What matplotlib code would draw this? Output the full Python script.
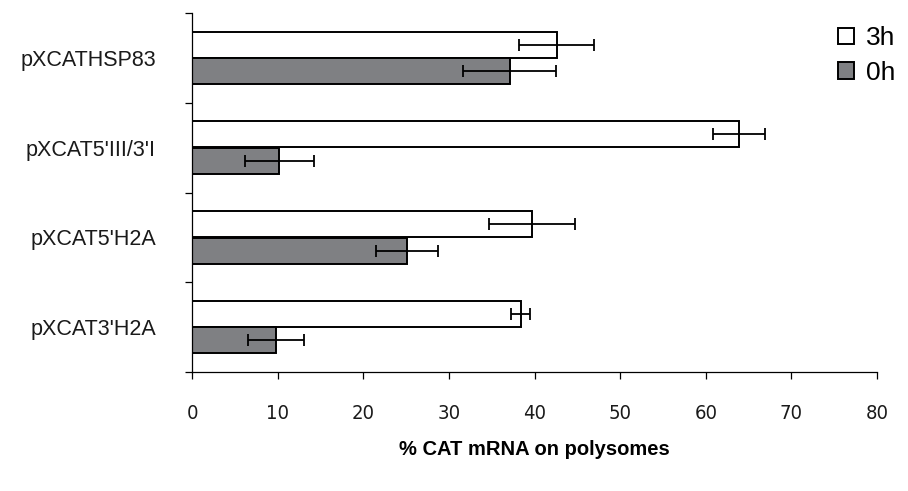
import matplotlib.pyplot as plt
import numpy as np

# data (top to bottom as in the chart)
constructs = ["pXCATHSP83", "pXCAT5'III/3'I", "pXCAT5'H2A", "pXCAT3'H2A"]
val_3h = [42.6, 63.9, 39.7, 38.4]
err_3h = [4.4, 3.0, 5.0, 1.1]
val_0h = [37.1, 10.2, 25.1, 9.8]
err_0h = [5.4, 4.0, 3.6, 3.3]

gray = '#7f8083'

fig = plt.figure(figsize=(9.08, 4.91), dpi=100)
ax = fig.add_axes([192/908, 1 - 372/491, (877 - 192)/908, (372 - 13)/491])

y = np.arange(len(constructs))[::-1]
h = 0.29

ax.barh(y + 0.147, val_3h, height=h, color='white', edgecolor='black', linewidth=1.4, label='3h')
ax.barh(y - 0.147, val_0h, height=h, color=gray, edgecolor='black', linewidth=1.4, label='0h')
ax.errorbar(val_3h, y + 0.147, xerr=err_3h, fmt='none', ecolor='black', elinewidth=1.3, capsize=4, capthick=1.3)
ax.errorbar(val_0h, y - 0.147, xerr=err_0h, fmt='none', ecolor='black', elinewidth=1.3, capsize=4, capthick=1.3)

ax.set_xlim(0, 80)
ax.set_ylim(-0.5, len(constructs) - 0.5)
ax.spines['top'].set_visible(False)
ax.spines['right'].set_visible(False)
ax.spines['left'].set_linewidth(0.9)
ax.spines['bottom'].set_linewidth(0.9)

ax.set_xticks(np.arange(0, 81, 10))
ax.set_xticklabels([str(v) for v in range(0, 81, 10)], family='DejaVu Sans', stretch='condensed',
                   fontsize=14.5, color='#1a1a1a')
ax.tick_params(axis='x', direction='out', length=5, width=0.9, pad=18)

# category boundaries as major ticks, labels on minor ticks
ax.set_yticks(np.arange(-0.5, len(constructs), 1.0))
ax.set_yticklabels([])
ax.set_yticks(y, minor=True)
ax.set_yticklabels(constructs, minor=True, family='Liberation Sans', fontsize=15.5, color='#1a1a1a')
ax.tick_params(axis='y', which='major', direction='out', length=5, width=0.9)
ax.tick_params(axis='y', which='minor', length=0, pad=26)

ax.set_xlabel('% CAT mRNA on polysomes', family='Liberation Sans', fontsize=14.5, fontweight='bold', labelpad=12)

leg = ax.legend(loc='upper right', bbox_to_anchor=(1.012, 0.995), bbox_transform=fig.transFigure,
                frameon=False, prop={'family': 'Liberation Sans', 'size': 19},
                handlelength=0.6, handleheight=0.6, handletextpad=0.45, labelspacing=0.4)

plt.savefig('out.png', dpi=100, facecolor='white')
